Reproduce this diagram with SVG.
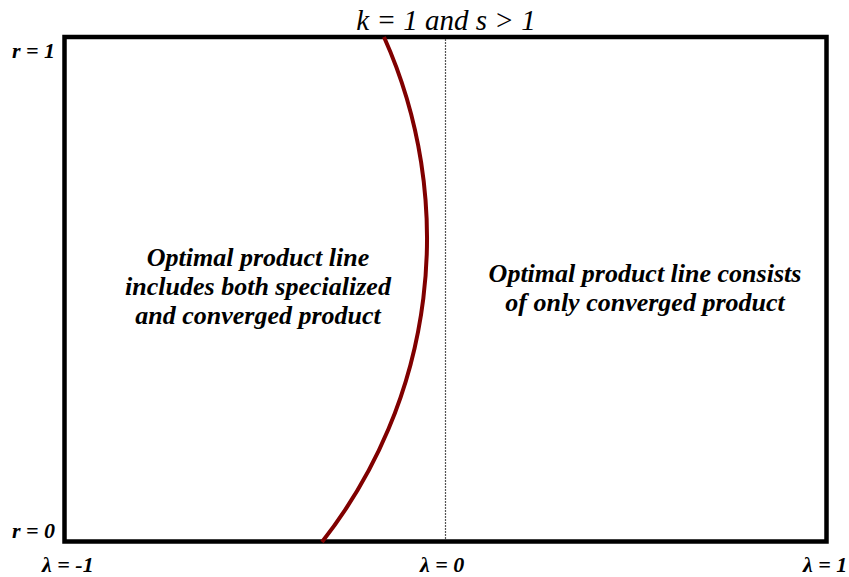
<svg xmlns="http://www.w3.org/2000/svg" width="849" height="577" viewBox="0 0 849 577">
<style>
.lbl{font-family:"Liberation Serif",serif;font-style:italic;font-weight:bold;fill:#000}
.ax{font-size:22px}
.body{font-size:26px;text-anchor:middle}
</style>
<rect width="849" height="577" fill="#fff"/>
<g id="frame">
<rect x="64.5" y="37" width="762" height="504.5" fill="none" stroke="#000" stroke-width="4.5"/>
</g>
<g id="connectors">
<line x1="445.5" y1="39" x2="445.5" y2="539" stroke="#555" stroke-width="1.2" stroke-dasharray="2,1"/>
<path d="M384,37 A492,492 0 0 1 322,542" fill="none" stroke="#800000" stroke-width="4"/>
</g>
<g id="title"><text x="446" y="30" font-family="Liberation Serif,serif" font-style="italic" font-size="29" text-anchor="middle">k = 1 and s &gt; 1</text></g>
<g id="axis-labels">
<text class="lbl ax" x="12" y="58">r = 1</text>
<text class="lbl ax" x="12" y="538">r = 0</text>
<text class="lbl ax" x="42" y="572">λ = -1</text>
<text class="lbl ax" x="420" y="572">λ = 0</text>
<text class="lbl ax" x="803" y="572">λ = 1</text>
</g>
<g id="region-left">
<text class="lbl body" x="258" y="266">Optimal product line</text>
<text class="lbl body" x="258" y="295">includes both specialized</text>
<text class="lbl body" x="258" y="324">and converged product</text>
</g>
<g id="region-right">
<text class="lbl body" x="645" y="282">Optimal product line consists</text>
<text class="lbl body" x="645" y="311">of only converged product</text>
</g>
</svg>
